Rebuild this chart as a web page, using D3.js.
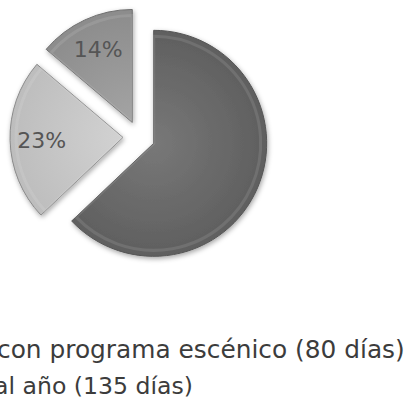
<!DOCTYPE html>
<html>
<head>
<meta charset="utf-8">
<script src="https://cdn.jsdelivr.net/npm/d3@7"></script>
<style>
  html, body { margin: 0; padding: 0; background: #ffffff; overflow: hidden; }
  svg { display: block; }
</style>
</head>
<body>
<svg id="chart" width="413" height="414"></svg>
<script>
// ---- data ----
const sliceNames = ["al año (365 días)", "al año (135 días)", "con programa escénico (80 días)"];
const sliceValues = [365, 135, 80];
const sliceLabels = ["", "23%", "14%"];
const legendTexts = ["con programa escénico (80 días)", "al año (135 días)"];

// ---- styling ----
const W = 413, H = 414;
const cx = 139, cy = 137, R = 113, explode = 16;
const fillsInner = ["#787878", "#d2d2d2", "#a4a4a4"];
const fillsOuter = ["#5f5f5f", "#bdbdbd", "#8c8c8c"];
const strokes = ["#555555", "#8a8a8a", "#6f6f6f"];

const svg = d3.select("#chart");
const defs = svg.append("defs");

const shadow = defs.append("filter").attr("id", "shadow")
  .attr("x", "-20%").attr("y", "-20%").attr("width", "140%").attr("height", "140%");
shadow.append("feDropShadow").attr("dx", 1).attr("dy", 2).attr("stdDeviation", 2.5)
  .attr("flood-color", "#000").attr("flood-opacity", 0.35);

sliceValues.forEach((v, i) => {
  const g = defs.append("radialGradient").attr("id", "grad" + i)
    .attr("gradientUnits", "userSpaceOnUse")
    .attr("cx", 0).attr("cy", 0).attr("r", R);
  g.append("stop").attr("offset", "0%").attr("stop-color", fillsInner[i]);
  g.append("stop").attr("offset", "100%").attr("stop-color", fillsOuter[i]);
});

const pie = d3.pie().sort(null).value(d => d)(sliceValues);
const arc = d3.arc().innerRadius(0).outerRadius(R);
const labelArc = d3.arc().innerRadius(R * 0.72).outerRadius(R * 0.72);

const root = svg.append("g").attr("transform", `translate(${cx},${cy})`);

const slices = root.selectAll("g.slice").data(pie).join("g")
  .attr("class", "slice")
  .attr("transform", d => {
    const a = (d.startAngle + d.endAngle) / 2;
    return `translate(${Math.sin(a) * explode},${-Math.cos(a) * explode})`;
  });

slices.append("path")
  .attr("d", arc)
  .attr("fill", (d, i) => `url(#grad${i})`)
  .attr("stroke", (d, i) => strokes[i])
  .attr("stroke-width", 1)
  .attr("filter", "url(#shadow)");

// inner bevel highlight
slices.append("path")
  .attr("d", d3.arc().innerRadius(0).outerRadius(R - 6))
  .attr("fill", "none")
  .attr("stroke", "rgba(255,255,255,0.10)")
  .attr("stroke-width", 3);

slices.append("text")
  .attr("transform", d => `translate(${labelArc.centroid(d)})`)
  .attr("text-anchor", "middle")
  .attr("dy", "0.36em")
  .attr("font-family", "DejaVu Sans")
  .attr("font-size", 22)
  .attr("fill", "#555555")
  .text((d, i) => sliceLabels[i]);

// ---- legend (left part cut by the frame) ----
const legend = svg.append("g");
const legX = [-3, -6];
const legY = [358, 394];
const legW = [408, 199];
legendTexts.forEach((t, i) => {
  const txt = legend.append("text")
    .attr("x", legX[i]).attr("y", legY[i])
    .attr("font-family", "DejaVu Sans")
    .attr("font-size", 20)
    .attr("fill", "#3c3c3c")
    .text(t);
  const w = txt.node().getComputedTextLength();
  txt.attr("font-size", 20 * legW[i] / w);
});
</script>
</body>
</html>
